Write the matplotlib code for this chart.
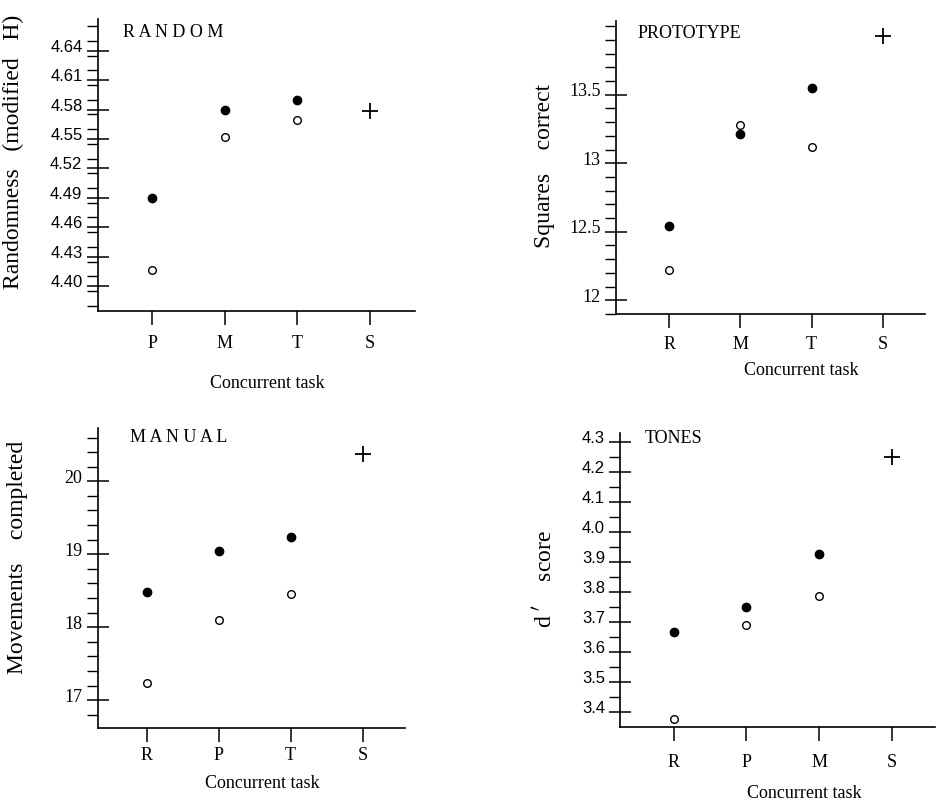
import matplotlib as mpl
mpl.use("agg")
import matplotlib.pyplot as plt
import matplotlib.transforms as mtransforms
from matplotlib.ticker import MultipleLocator

plt.rcParams['font.family'] = ['Liberation Serif', 'DejaVu Serif']

# valores (cheio = dual-task, vazio = outra condicao, + = tarefa simples)
random_tasks = ["P", "M", "T", "S"]
random_filled = [4.490, 4.580, 4.590]
random_open = [4.416, 4.552, 4.569]
random_single = 4.579
random_ticks = [4.40, 4.43, 4.46, 4.49, 4.52, 4.55, 4.58, 4.61, 4.64]
random_ticklabels = ["4.40", "4.43", "4.46", "4.49", "4.52", "4.55", "4.58", "4.61", "4.64"]

proto_tasks = ["R", "M", "T", "S"]
proto_filled = [12.54, 13.21, 13.55]
proto_open = [12.22, 13.28, 13.12]
proto_single = 13.93
proto_ticks = [12, 12.5, 13, 13.5]
proto_ticklabels = ["12", "12.5", "13", "13.5"]

manual_tasks = ["R", "P", "T", "S"]
manual_filled = [18.48, 19.04, 19.23]
manual_open = [17.24, 18.10, 18.45]
manual_single = 20.37
manual_ticks = [17, 18, 19, 20]
manual_ticklabels = ["17", "18", "19", "20"]

tones_tasks = ["R", "P", "M", "S"]
tones_filled = [3.667, 3.751, 3.927]
tones_open = [3.380, 3.692, 3.788]
tones_single = 4.252
tones_ticks = [3.4, 3.5, 3.6, 3.7, 3.8, 3.9, 4.0, 4.1, 4.2, 4.3]
tones_ticklabels = ["3.4", "3.5", "3.6", "3.7", "3.8", "3.9", "4.0", "4.1", "4.2", "4.3"]

fig = plt.figure(figsize=(9.4, 8.02), dpi=100)


def panel(rect, tasks, filled, opn, single, title, title_xy, ylabel, ylabel_xy,
          xlabel_xy, ylim, xlim, ticks, ticklabels, minor, tickfont, ticksize, labelpad):
	ax = fig.add_axes(rect)
	x = [1, 2, 3, 4]
	ax.plot(x[:3], filled, 'o', color='black', markersize=6, linestyle='none')
	ax.plot(x[:3], opn, 'o', markerfacecolor='white', markeredgecolor='black',
	        markersize=5.5, markeredgewidth=1.0, linestyle='none')
	ax.plot([x[3]], [single], '+', color='black', markersize=11, markeredgewidth=1.3)

	ax.set_xlim(*xlim)
	ax.set_ylim(*ylim)
	ax.spines['top'].set_visible(False)
	ax.spines['right'].set_visible(False)
	ax.spines['left'].set_linewidth(1.2)
	ax.spines['bottom'].set_linewidth(1.2)

	ax.set_xticks(x, tasks)
	ax.tick_params(axis='x', direction='out', length=10, width=1.1,
	               labelsize=13, pad=labelpad)
	ax.set_yticks(ticks, ticklabels)
	ax.yaxis.set_minor_locator(MultipleLocator(minor))
	ax.tick_params(axis='y', which='major', direction='inout', length=16, width=1.1,
	               labelsize=ticksize, pad=3)
	ax.tick_params(axis='y', which='minor', direction='out', length=8, width=1.0)
	off = mtransforms.ScaledTranslation(0, 5 / 100, fig.dpi_scale_trans)
	for lab in ax.get_yticklabels():
		lab.set_transform(lab.get_transform() + off)
		lab.set_family(tickfont)

	ax.text(title_xy[0], title_xy[1], title, transform=ax.transAxes,
	        fontsize=13, ha='left', va='center')
	ax.set_ylabel(ylabel, fontsize=17)
	ax.yaxis.set_label_coords(*ylabel_xy)
	ax.set_xlabel("Concurrent task", fontsize=13)
	ax.xaxis.set_label_coords(*xlabel_xy)
	return ax


panel([0.104, 0.612, 0.3375, 0.364], random_tasks, random_filled, random_open,
      random_single, "R A N D O M", (0.08, 0.955), "Randomness   (modified   H)",
      (-0.232, 0.545), (0.534, -0.219), (4.3745, 4.672), (0.253, 4.62),
      random_ticks, random_ticklabels, 0.015, ['Liberation Sans', 'DejaVu Sans'], 12, 7)

panel([0.655, 0.6085, 0.329, 0.3657], proto_tasks, proto_filled, proto_open,
      proto_single, "PROTOTYPE", (0.072, 0.958), "Squares    correct",
      (-0.196, 0.505), (0.6, -0.164), (11.9, 14.04), (0.252, 4.59),
      proto_ticks, proto_ticklabels, 0.1, ['Liberation Serif', 'DejaVu Serif'], 13, 6)

panel([0.104, 0.0923, 0.327, 0.374], manual_tasks, manual_filled, manual_open,
      manual_single, "M A N U A L", (0.105, 0.97), "Movements    completed",
      (-0.227, 0.57), (0.535, -0.157), (16.62, 20.73), (0.32, 4.59),
      manual_ticks, manual_ticklabels, 0.2, ['Liberation Serif', 'DejaVu Serif'], 13, 4)

panel([0.660, 0.094, 0.3347, 0.366], tones_tasks, tones_filled, tones_open,
      tones_single, "TONES", (0.077, 0.98), "d $'$    score",
      (-0.203, 0.503), (0.586, -0.199), (3.353, 4.33), (0.266, 4.595),
      tones_ticks, tones_ticklabels, 0.05, ['Liberation Sans', 'DejaVu Sans'], 12, 10)

plt.savefig("out.png", dpi=100)
